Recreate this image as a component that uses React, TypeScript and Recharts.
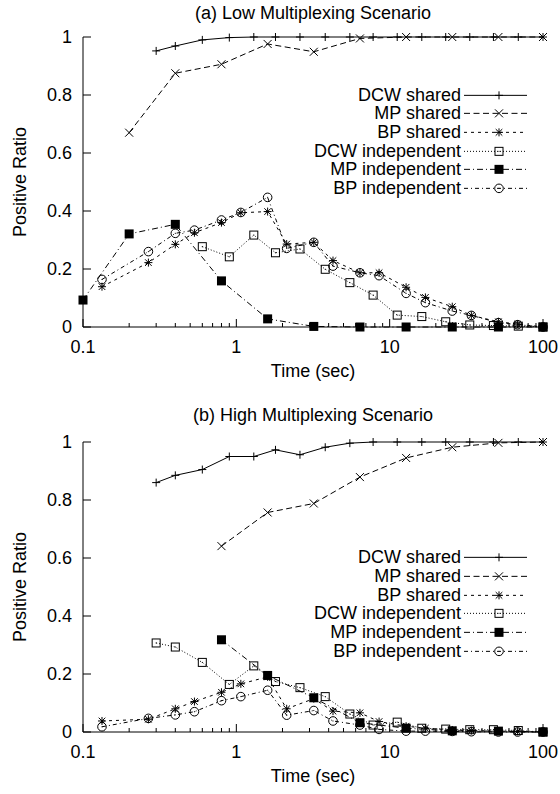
import React from 'react';
import { LineChart, Line, XAxis, YAxis } from 'recharts';

// sample times (sec) for each method
const mpTimes = [0.1, 0.2, 0.4, 0.8, 1.6, 3.2, 6.4, 12.8, 25.6, 51.2, 100];
const bpTimes = [0.133, 0.267, 0.4, 0.533, 0.8, 1.07, 1.6, 2.13, 3.2, 4.27, 6.4, 8.53, 12.8, 17.1, 25.6, 34.1, 51.2, 68.3, 100];
const dcwTimes = [0.3, 0.4, 0.6, 0.9, 1.3, 1.8, 2.6, 3.8, 5.5, 7.8, 11.2, 16.2, 23.2, 33.3, 47.5, 69, 100];

// (a) low multiplexing
const lowDcwShared = [0.952, 0.969, 0.99, 0.998, 1, 1, 1, 1, 1, 1, 1, 1, 1, 1, 1, 1, 1];
const lowMpShared = [null, 0.67, 0.875, 0.906, 0.976, 0.949, 0.995, 1, 1, 1, 1];
const lowBpShared = [0.139, 0.222, 0.285, 0.325, 0.36, 0.394, 0.398, 0.286, 0.292, 0.229, 0.187, 0.187, 0.137, 0.102, 0.07, 0.04, 0.018, 0.01, 0];
const lowDcwIndep = [null, null, 0.277, 0.242, 0.317, 0.256, 0.269, 0.199, 0.153, 0.11, 0.041, 0.036, 0.018, 0.007, 0.005, 0.003, 0];
const lowMpIndep = [0.093, 0.321, 0.354, 0.159, 0.028, 0.002, 0, 0, 0, 0, 0];
const lowBpIndep = [0.164, 0.26, 0.323, 0.334, 0.369, 0.395, 0.447, 0.271, 0.292, 0.21, 0.187, 0.177, 0.116, 0.084, 0.055, 0.04, 0.015, 0.008, 0];

// (b) high multiplexing
const highDcwShared = [0.86, 0.885, 0.905, 0.95, 0.95, 0.973, 0.956, 0.982, 0.996, 1, 1, 1, 1, 1, 1, 1, 1];
const highMpShared = [null, null, null, 0.641, 0.757, 0.788, 0.879, 0.945, 0.982, 0.997, 1];
const highBpShared = [0.038, 0.044, 0.08, 0.105, 0.137, 0.166, 0.19, 0.08, 0.115, 0.072, 0.066, 0.036, 0.02, 0.013, 0.007, 0.005, 0.003, 0.002, 0];
const highDcwIndep = [0.307, 0.293, 0.24, 0.164, 0.228, 0.174, 0.153, 0.122, 0.062, 0.024, 0.034, 0.013, 0.01, 0.008, 0.008, 0.005, 0];
const highMpIndep = [null, null, null, 0.318, 0.195, 0.118, 0.032, 0.013, 0.004, 0.003, 0];
const highBpIndep = [0.018, 0.047, 0.059, 0.07, 0.108, 0.122, 0.144, 0.058, 0.074, 0.038, 0.024, 0.009, 0.003, 0.003, 0.002, 0.001, 0, 0, 0];

const seriesNames = ['DCW shared', 'MP shared', 'BP shared', 'DCW independent', 'MP independent', 'BP independent'];
const xMajor = [0.1, 1, 10, 100];
const yTicks = [0, 0.2, 0.4, 0.6, 0.8, 1];

const FONT = '"Liberation Sans", Arial, Helvetica, sans-serif';

type Shape = 'plus' | 'cross' | 'star' | 'box' | 'boxFill' | 'circle';

const styles: { shape: Shape; dash?: string }[] = [
  { shape: 'plus' },
  { shape: 'cross', dash: '6 3.5' },
  { shape: 'star', dash: '3 4' },
  { shape: 'box', dash: '1 2' },
  { shape: 'boxFill', dash: '6 3 1 3' },
  { shape: 'circle', dash: '4 3 1 3' },
];

const xTicks = [0.1, 1, 10].flatMap((d) => [1, 2, 3, 4, 5, 6, 7, 8, 9].map((k) => d * k)).concat([100]);

function pts(times: number[], vals: (number | null)[]) {
  return times.map((t, i) => ({ t, v: vals[i] })).filter((p) => p.v !== null);
}

function Marker({ shape, x, y }: { shape: Shape; x: number; y: number }) {
  const s = 4;
  const k = { stroke: '#000', strokeWidth: 1 };
  switch (shape) {
    case 'plus':
      return (
        <g>
          <line x1={x - s} x2={x + s} y1={y} y2={y} {...k} />
          <line x1={x} x2={x} y1={y - s} y2={y + s} {...k} />
        </g>
      );
    case 'cross':
      return (
        <g>
          <line x1={x - s} x2={x + s} y1={y - s} y2={y + s} {...k} />
          <line x1={x - s} x2={x + s} y1={y + s} y2={y - s} {...k} />
        </g>
      );
    case 'star':
      return (
        <g>
          <line x1={x - s} x2={x + s} y1={y} y2={y} {...k} />
          <line x1={x} x2={x} y1={y - s} y2={y + s} {...k} />
          <line x1={x - 3.3} x2={x + 3.3} y1={y - 3.3} y2={y + 3.3} {...k} />
          <line x1={x - 3.3} x2={x + 3.3} y1={y + 3.3} y2={y - 3.3} {...k} />
        </g>
      );
    case 'box':
      return (
        <g>
          <rect x={x - s} y={y - s} width={2 * s} height={2 * s} fill="none" {...k} />
          <rect x={x - 0.5} y={y - 0.5} width={1} height={1} fill="#000" />
        </g>
      );
    case 'boxFill':
      return <rect x={x - 4.5} y={y - 4.5} width={9} height={9} fill="#000" />;
    default:
      return (
        <g>
          <circle cx={x} cy={y} r={4.3} fill="none" {...k} />
          <rect x={x - 0.5} y={y - 0.5} width={1} height={1} fill="#000" />
        </g>
      );
  }
}

const dotFor = (shape: Shape) => (p: any) => (
  <Marker key={`${shape}-${p.index}`} shape={shape} x={p.cx} y={p.cy} />
);

function BottomTick(props: any) {
  const { x, y, payload } = props;
  const major = xMajor.includes(payload.value);
  return (
    <g>
      <line x1={x} x2={x} y1={y} y2={y - (major ? 8 : 4)} stroke="#000" />
      {major && (
        <text x={x} y={y + 26} textAnchor="middle" fontSize={18} fontFamily={FONT} fill="#000">
          {String(payload.value)}
        </text>
      )}
    </g>
  );
}

function TopTick(props: any) {
  const { x, y, payload } = props;
  const major = xMajor.includes(payload.value);
  return <line x1={x} x2={x} y1={y} y2={y + (major ? 8 : 4)} stroke="#000" />;
}

function LeftTick(props: any) {
  const { x, y, payload } = props;
  return (
    <g>
      <line x1={x} x2={x + 8} y1={y} y2={y} stroke="#000" />
      <text x={x - 11} y={y} dy="0.35em" textAnchor="end" fontSize={18} fontFamily={FONT} fill="#000">
        {String(payload.value)}
      </text>
    </g>
  );
}

function RightTick(props: any) {
  const { x, y } = props;
  return <line x1={x} x2={x - 8} y1={y} y2={y} stroke="#000" />;
}

function XTitle() {
  return (
    <text x={313} y={377} textAnchor="middle" fontSize={18} fontFamily={FONT} fill="#000">
      Time (sec)
    </text>
  );
}

function YTitle() {
  return (
    <text transform="rotate(-90)" x={-182} y={26} textAnchor="middle" fontSize={18} fontFamily={FONT} fill="#000">
      Positive Ratio
    </text>
  );
}

function LegendBox({ top }: { top: number }) {
  return (
    <div style={{ position: 'absolute', left: 0, top, fontFamily: FONT, fontSize: 18 }}>
      {seriesNames.map((name, i) => (
        <div key={name} style={{ display: 'flex', alignItems: 'center', height: 18.7 }}>
          <span style={{ width: 461, textAlign: 'right', lineHeight: '18.7px' }}>{name}</span>
          <svg width={70} height={18.7} style={{ display: 'block' }}>
            <line x1={3} x2={66} y1={9.35} y2={9.35} stroke="#000" strokeDasharray={styles[i].dash} />
            <Marker shape={styles[i].shape} x={38} y={9.35} />
          </svg>
        </div>
      ))}
    </div>
  );
}

type PanelProps = {
  title: string;
  titleY: number;
  legendY: number;
  series: { t: number; v: number | null }[][];
};

function Panel({ title, titleY, legendY, series }: PanelProps) {
  return (
    <div style={{ position: 'relative', width: 560, height: 389 }}>
      <div
        style={{
          position: 'absolute', left: 83, width: 460, top: titleY - 11, height: 22,
          lineHeight: '22px', textAlign: 'center', fontFamily: FONT, fontSize: 18,
        }}
      >
        {title}
      </div>
      <LineChart width={560} height={389} margin={{ top: 37, right: 17, bottom: 0, left: 0 }}>
        <XAxis
          dataKey="t" type="number" scale="log" domain={[0.1, 100]} ticks={xTicks} interval={0}
          height={62} tickSize={0} tickMargin={0} tickLine={false} tick={<BottomTick />}
          axisLine={{ stroke: '#000' }} label={<XTitle />}
        />
        <XAxis
          xAxisId="top" orientation="top" dataKey="t" type="number" scale="log" domain={[0.1, 100]}
          ticks={xTicks} interval={0} height={0} tickSize={0} tickMargin={0} tickLine={false}
          tick={<TopTick />} axisLine={{ stroke: '#000' }}
        />
        <YAxis
          type="number" domain={[0, 1]} ticks={yTicks} interval={0} width={83} tickSize={0}
          tickMargin={0} tickLine={false} tick={<LeftTick />} axisLine={{ stroke: '#000' }}
          label={<YTitle />}
        />
        <YAxis
          yAxisId="right" orientation="right" type="number" domain={[0, 1]} ticks={yTicks} interval={0}
          width={0} tickSize={0} tickMargin={0} tickLine={false} tick={<RightTick />}
          axisLine={{ stroke: '#000' }}
        />
        {series.map((d, i) => (
          <Line
            key={seriesNames[i]}
            data={d}
            dataKey="v"
            name={seriesNames[i]}
            type="linear"
            stroke="#000"
            strokeWidth={1}
            strokeDasharray={styles[i].dash}
            dot={dotFor(styles[i].shape)}
            activeDot={false}
            isAnimationActive={false}
          />
        ))}
      </LineChart>
      <LegendBox top={legendY - 9.35} />
    </div>
  );
}

export default function App() {
  const low = [
    pts(dcwTimes, lowDcwShared),
    pts(mpTimes, lowMpShared),
    pts(bpTimes, lowBpShared),
    pts(dcwTimes, lowDcwIndep),
    pts(mpTimes, lowMpIndep),
    pts(bpTimes, lowBpIndep),
  ];
  const high = [
    pts(dcwTimes, highDcwShared),
    pts(mpTimes, highMpShared),
    pts(bpTimes, highBpShared),
    pts(dcwTimes, highDcwIndep),
    pts(mpTimes, highMpIndep),
    pts(bpTimes, highBpIndep),
  ];
  return (
    <div style={{ position: 'absolute', left: 0, top: 0, width: 560, height: 794, background: '#fff' }}>
      <Panel title="(a) Low Multiplexing Scenario" titleY={13} legendY={95} series={low} />
      <div style={{ height: 16 }} />
      <Panel title="(b) High Multiplexing Scenario" titleY={10} legendY={152.6} series={high} />
    </div>
  );
}
